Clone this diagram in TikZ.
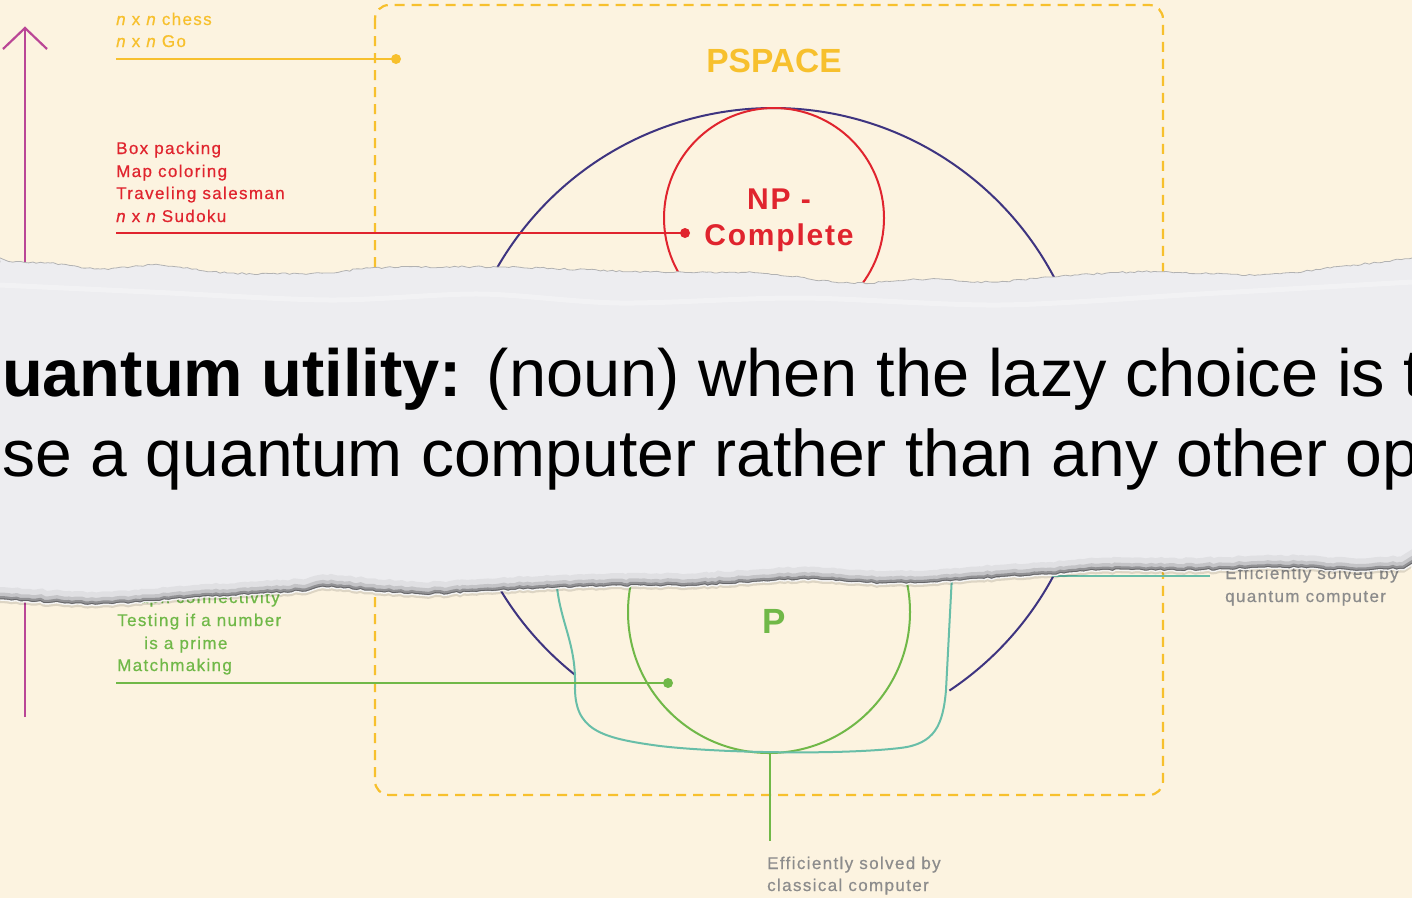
\documentclass[tikz,border=0pt]{standalone}
\usepackage{fontspec}
\setmainfont{Liberation Sans}
\newfontfamily\lblfont[LetterSpace=8,FakeBold=0.6]{Liberation Sans}
\newfontfamily\headfont[LetterSpace=6]{Liberation Sans}
\usetikzlibrary{decorations.pathmorphing}
\definecolor{paper}{RGB}{252,243,224}
\definecolor{stripc}{RGB}{237,237,240}
\definecolor{pyellow}{RGB}{247,192,45}
\definecolor{pred}{RGB}{224,36,46}
\definecolor{pnavy}{RGB}{62,52,128}
\definecolor{pgreen}{RGB}{112,184,72}
\definecolor{pteal}{RGB}{104,190,168}
\definecolor{pmagenta}{RGB}{186,70,150}
\definecolor{pgray}{RGB}{140,140,140}
\tikzset{
  lbl/.style={anchor=base west, inner sep=0pt, font=\lblfont\fontsize{17}{20}\selectfont},
  head/.style={anchor=base, inner sep=0pt, font=\headfont\bfseries\fontsize{30}{36}\selectfont},
  dot/.style={circle, fill=#1, inner sep=0pt, minimum size=10pt},
  lead/.style={line width=2.5pt},
  ring/.style={line width=2pt},
  torn/.style={decorate, decoration={random steps, segment length=4pt, amplitude=0.9pt}},
}
% the torn paper strip
\newcommand\strippath{(-30,262) -- plot[smooth] coordinates{(0,262) (50,263) (100,269) (160,265) (230,273) (330,273) (370,268) (500,267) (650,272) (760,273) (850,283) (930,279) (990,282) (1050,277) (1130,272) (1170,272) (1260,275) (1330,268) (1412,258)} -- (1440,258) -- (1440,569) -- plot[smooth] coordinates{(1412,569) (1350,571) (1280,568) (1200,571) (1100,571) (1050,575) (1000,578) (950,582) (880,584) (800,580) (700,586) (600,587) (500,591) (420,595) (330,588) (300,592) (200,598) (100,605) (0,600)} -- (-30,600) -- cycle}

\begin{document}
\begin{tikzpicture}[x=1pt,y=-1pt]
  \useasboundingbox (0,0) rectangle (1412,898);
  \clip (0,0) rectangle (1412,898);
  \fill[paper] (0,0) rectangle (1412,898);

  % PSPACE box
  \draw[pyellow, line width=2.2pt, dash pattern=on 10pt off 7pt, rounded corners=14pt] (375,5) rectangle (1163,795);
  \node[anchor=base, inner sep=0pt, pyellow, font=\bfseries\fontsize{33.5}{40}\selectfont] (pspace) at (774,72) {PSPACE};

  % axis
  \coordinate (axisbot) at (25,717);
  \coordinate (axistop) at (25,28);
  \draw[pmagenta, line width=2.2pt] (axisbot) -- (axistop);
  \draw[pmagenta, line width=2.2pt] (3,49) -- (axistop) -- (47,49);

  % classes
  \coordinate (bqpc) at (773,426);
  \draw[pnavy, ring] (bqpc) ++(128.4:318) arc[start angle=128.4, end angle=416.3, radius=318];
  \draw[pred, ring] (774,218) circle[radius=110];
  \draw[pgreen, ring] (769,612) circle[radius=141];
  \draw[pteal, ring] (556,575) .. controls (558,620) and (576,640) .. (575,685)
    .. controls (574,730) and (600,738) .. (660,746)
    .. controls (720,753) and (840,755) .. (900,748)
    .. controls (935,744) and (943,725) .. (946,690) -- (952,575);
  \node[head, pred] (np) at (779,209) {NP -};
  \node[head, pred] (complete) at (779,245) {Complete};
  \node[anchor=base, inner sep=0pt, pgreen, font=\bfseries\fontsize{35}{40}\selectfont] (p) at (774,633) {P};

  % PSPACE examples
  \node[lbl, pyellow] (chess) at (116,25) {{\itshape n} x {\itshape n} chess};
  \node[lbl, pyellow] (go) at (116,47) {{\itshape n} x {\itshape n} Go};
  \coordinate (psstart) at (116,59);
  \node[dot=pyellow] (psdot) at (396,59) {};
  \draw[pyellow, lead] (psstart) -- (psdot.center);

  % NP-complete examples
  \node[lbl, pred] (box) at (116,154) {Box packing};
  \node[lbl, pred] (map) at (116,177) {Map coloring};
  \node[lbl, pred] (tsp) at (116,199) {Traveling salesman};
  \node[lbl, pred] (sudoku) at (116,222) {{\itshape n} x {\itshape n} Sudoku};
  \coordinate (npstart) at (116,233);
  \node[dot=pred] (npdot) at (685,233) {};
  \draw[pred, lead] (npstart) -- (npdot.center);

  % P examples
  \node[lbl, pgreen] (graph) at (117,603) {Graph connectivity};
  \node[lbl, pgreen] (prime) at (117,626) {Testing if a number};
  \node[lbl, pgreen] (prime2) at (144,649) {is a prime};
  \node[lbl, pgreen] (match) at (117,671) {Matchmaking};
  \coordinate (pstart) at (116,683);
  \node[dot=pgreen] (pdot) at (668,683) {};
  \draw[pgreen, lead] (pstart) -- (pdot.center);

  % solved by
  \coordinate (pbot) at (770,753);
  \coordinate (classend) at (770,841);
  \draw[pgreen, line width=2pt] (pbot) -- (classend);
  \node[lbl, pgray] (classic) at (767,869) {Efficiently solved by};
  \node[lbl, pgray] (classic2) at (767,891) {classical computer};
  \coordinate (bqpedge) at (1052,576);
  \coordinate (quantend) at (1210,576);
  \draw[pteal, line width=2pt] (bqpedge) -- (quantend);
  \node[lbl, pgray] (quant) at (1225,579) {Efficiently solved by};
  \node[lbl, pgray] (quant2) at (1225,602) {quantum computer};

  % paper strip
  \pgfmathsetseed{11}
  \fill[black, opacity=.12, torn, yshift=-3pt] \strippath;
  \pgfmathsetseed{11}
  \fill[stripc, torn] \strippath;
  \draw[white, line width=5pt, opacity=.3] plot[smooth] coordinates{(0,285) (150,292) (330,300) (480,294) (620,303) (800,298) (1000,305) (1200,294) (1412,282)};
  \begin{scope}
    \pgfmathsetseed{11}
    \clip[torn] \strippath;
    \clip (0,430) rectangle (1412,898);
    \pgfmathsetseed{11}
    \draw[black, opacity=.05, line width=26pt, torn] \strippath;
    \pgfmathsetseed{11}
    \draw[black, opacity=.12, line width=15pt, torn] \strippath;
    \pgfmathsetseed{11}
    \draw[black, opacity=.25, line width=8pt, torn] \strippath;
    \pgfmathsetseed{11}
    \draw[black, opacity=.3, line width=3.5pt, torn] \strippath;
  \end{scope}
  \begin{scope}
    \clip (0,430) rectangle (1412,898);
    \pgfmathsetseed{11}
    \draw[white, line width=1.4pt, opacity=.9, torn] \strippath;
  \end{scope}
  \begin{scope}
    \clip (0,0) rectangle (1412,430);
    \pgfmathsetseed{11}
    \draw[black!30, line width=0.8pt, torn] \strippath;
  \end{scope}

  % definition text
  \node[anchor=base west, inner sep=0pt, font=\fontsize{66.8}{80}\selectfont] (defa) at (-39,396) {\textbf{quantum utility:} (noun) when the lazy choice is to};
  \node[anchor=base west, inner sep=0pt, font=\fontsize{66}{80}\selectfont] (defb) at (-34,476) {use a quantum computer rather than any other option};
\end{tikzpicture}
\end{document}
